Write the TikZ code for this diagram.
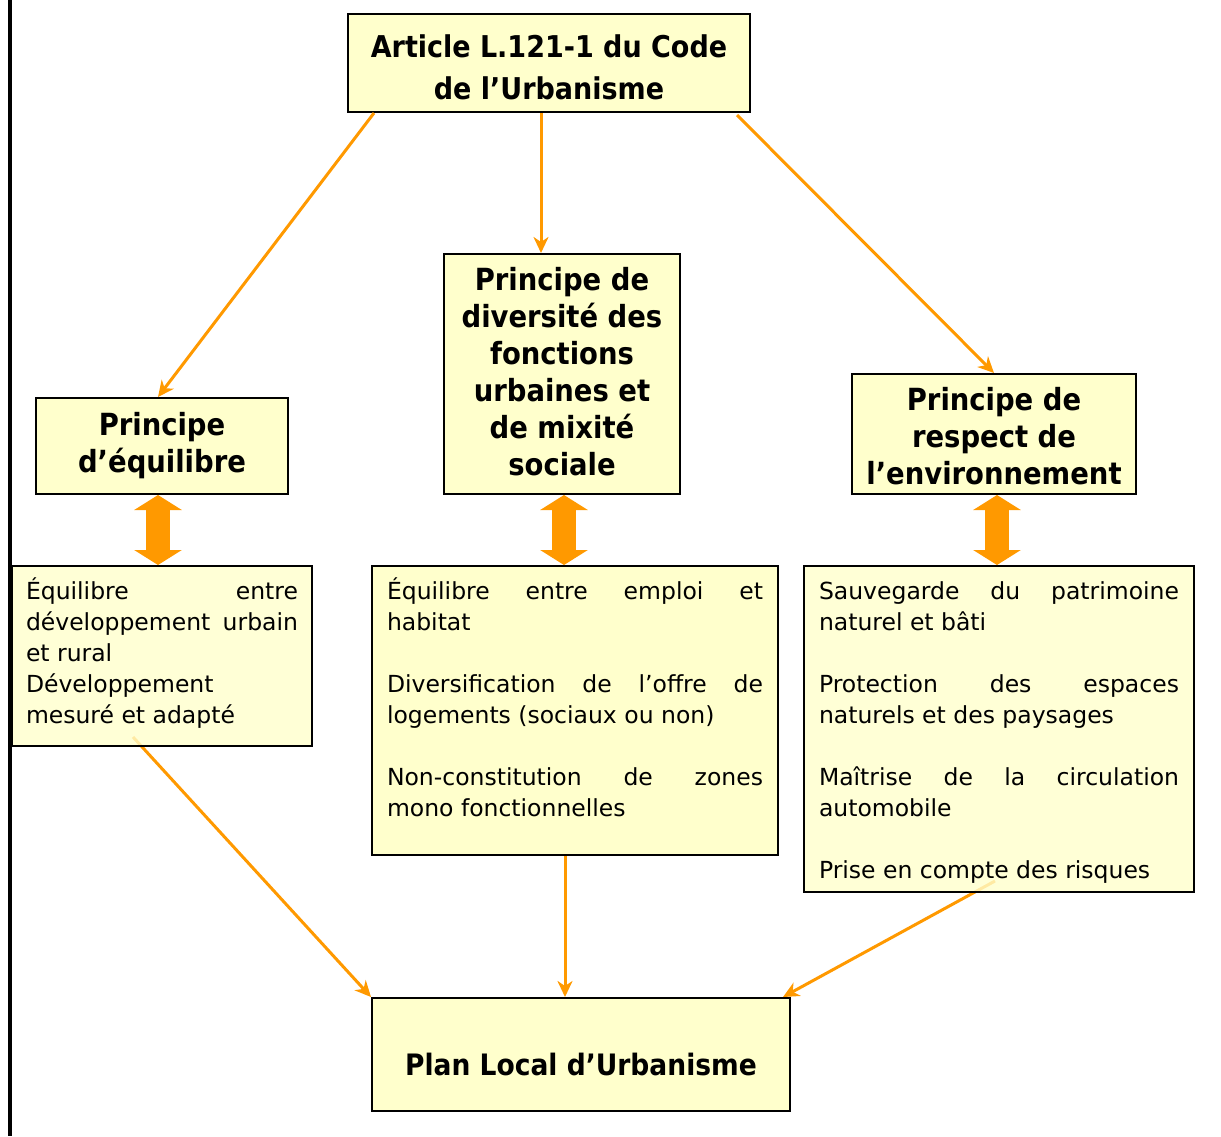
\documentclass[tikz,border=0pt]{standalone}
\usepackage{fontspec}
\setmainfont{DejaVu Sans Condensed}
\newfontfamily\bodyfont{DejaVu Sans}
\usetikzlibrary{arrows.meta,backgrounds,calc}
\definecolor{boxfill}{HTML}{FFFFCC}
\definecolor{orng}{HTML}{FF9900}
\tikzset{
  box/.style={draw=black, line width=2pt, fill=boxfill, inner ysep=0pt, anchor=north west},
  ttl/.style={font=\bfseries\fontsize{30.5}{37}\selectfont},
  body/.style={font=\bodyfont\fontsize{23.5}{31}\selectfont},
  conn/.style={draw=orng, line width=3pt, -{Stealth[length=16pt,width=15pt,inset=5pt]}},
  dbl/.style={draw=orng, line width=24pt, {Triangle[length=15pt,width=47pt]}-{Triangle[length=15pt,width=47pt]}},
}
\begin{document}
\begin{tikzpicture}[x=1pt,y=-1pt]
\useasboundingbox (0,0) rectangle (1221,1136);
% left border line
\draw[line width=4pt] (9.5,0) -- (9.5,1136);

% title boxes
\node[box, ttl, inner xsep=0pt, text height=43pt, text depth=55pt] (art) at (347,13)
  {\parbox[t]{402pt}{\centering\fontsize{30}{42}\selectfont Article L.121-1 du Code\\ de l’Urbanisme}};
\node[box, ttl, inner xsep=0pt, text height=37pt, text depth=59pt] (equ) at (35,397)
  {\parbox[t]{252pt}{\centering Principe\\ d’équilibre}};
\node[box, ttl, inner xsep=0pt, text height=36pt, text depth=204pt] (div) at (443,253)
  {\parbox[t]{236pt}{\centering Principe de\\ diversité des\\ fonctions\\ urbaines et\\ de mixité\\ sociale}};
\node[box, ttl, inner xsep=0pt, text height=36pt, text depth=84pt] (resp) at (851,373)
  {\parbox[t]{284pt}{\centering Principe de\\ respect de\\ l’environnement}};
\node[box, ttl, inner xsep=0pt, text height=77pt, text depth=36pt] (plan) at (371,997)
  {\parbox[t]{418pt}{\centering\fontsize{29.5}{36}\selectfont Plan Local d’Urbanisme}};

% text boxes
\node[box, body, fill opacity=0.8, text opacity=1, inner xsep=14pt, text height=33pt, text depth=147pt] (eqt) at (11,565)
  {\parbox[t]{272pt}{\raggedright
  Équilibre\hfill entre\\
  développement\hfill urbain\\
  et rural\\
  Développement\\
  mesuré et adapté}};
\node[box, body, inner xsep=15pt, text height=33pt, text depth=256pt] (mtx) at (371,565)
  {\parbox[t]{376pt}{\raggedright
  Équilibre\hfill entre\hfill emploi\hfill et\\
  habitat\\[31pt]
  Diversification\hfill de\hfill l’offre\hfill de\\
  logements (sociaux ou non)\\[31pt]
  Non-constitution\hfill de\hfill zones\\
  mono fonctionnelles}};
\node[box, body, fill opacity=0.8, text opacity=1, inner xsep=15pt, text height=33pt, text depth=293pt] (rtx) at (803,565)
  {\parbox[t]{360pt}{\raggedright
  Sauvegarde\hfill du\hfill patrimoine\\
  naturel et bâti\\[31pt]
  Protection\hfill des\hfill espaces\\
  naturels et des paysages\\[31pt]
  Maîtrise\hfill de\hfill la\hfill circulation\\
  automobile\\[31pt]
  Prise en compte des risques}};

% connectors from the article
\draw[conn] ([xshift=27pt]art.south west) -- ([xshift=-4pt]equ.north);
\draw[conn] ([xshift=-8pt]art.south) -- ([xshift=-8pt]art.south |- div.north);
\draw[conn] ([xshift=-14pt,yshift=-2pt]art.south east) -- (resp.north);

% double arrows
\draw[dbl] ([xshift=-4pt]equ.south) -- ([xshift=-4pt]equ.south |- eqt.north);
\draw[dbl] ([xshift=2pt]div.south) -- ([xshift=2pt]div.south |- mtx.north);
\draw[dbl] ([xshift=3pt]resp.south) -- ([xshift=3pt]resp.south |- rtx.north);

% connectors to the plan
\begin{scope}[on background layer]
\draw[conn] ([xshift=122pt,yshift=10pt]eqt.south west) -- (plan.north west);
\draw[conn] ([xshift=192pt,yshift=12pt]rtx.south west) -- ([xshift=-8pt]plan.north east);
\end{scope}
\draw[conn] ([xshift=-10pt]mtx.south) -- ([xshift=-10pt]mtx.south |- plan.north);
\end{tikzpicture}
\end{document}
